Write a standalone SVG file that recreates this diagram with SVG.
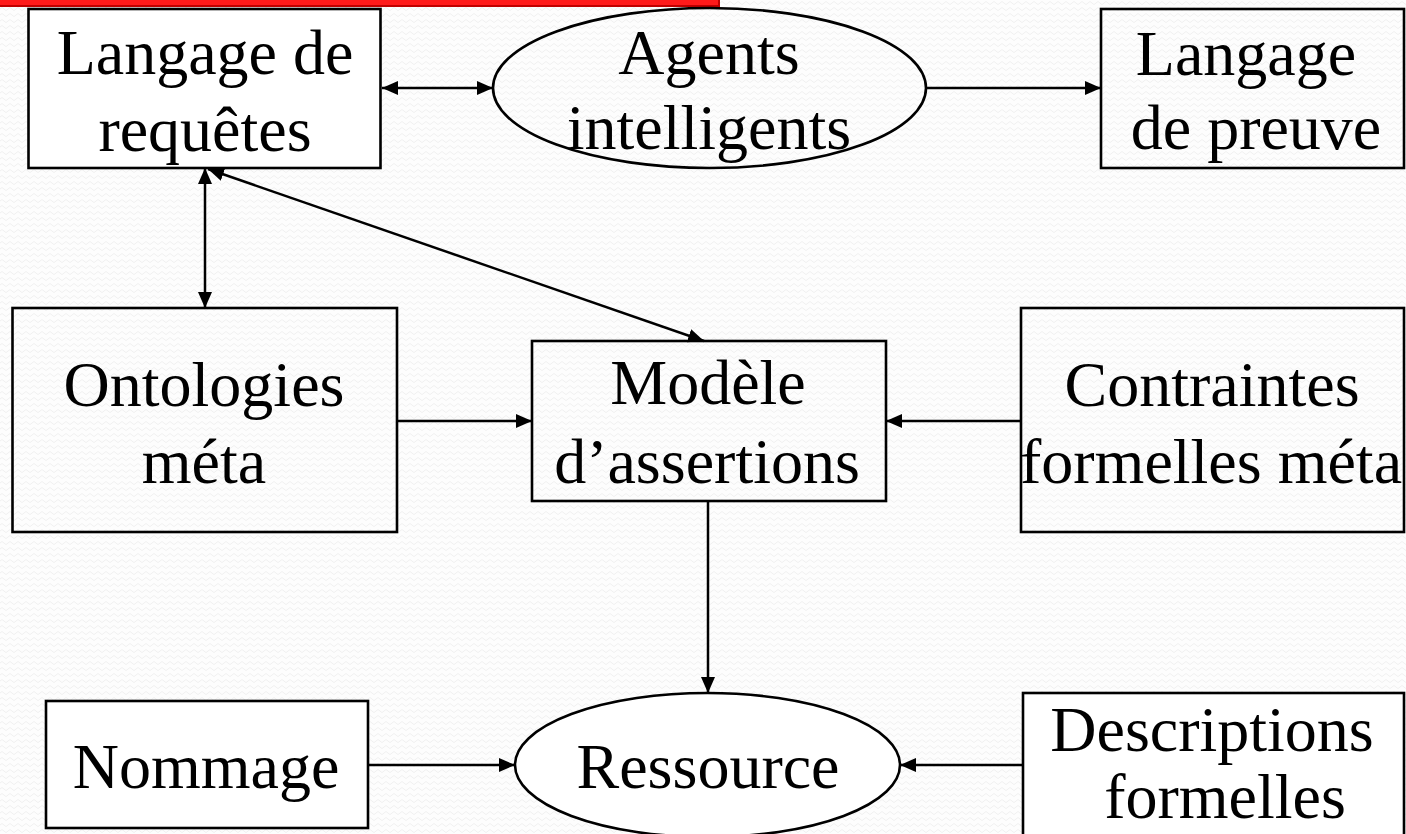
<svg xmlns="http://www.w3.org/2000/svg" width="1406" height="834" viewBox="0 0 1406 834">
  <style>
    .box { fill: none; stroke: #000; stroke-width: 2.6; }
    .solid { fill: #fff; stroke: #000; stroke-width: 2.6; }
    .lbl { font-family: "Liberation Serif", "Times New Roman", serif; font-size: 64px; fill: #000; text-anchor: middle; }
    .edge { fill: none; stroke: #000; stroke-width: 2.5; }
  </style>
  <defs>
    <pattern id="waves" width="8" height="6" patternUnits="userSpaceOnUse">
      <path d="M0,3 L2,1.5 L4,3 L6,4.5 L8,3" fill="none" stroke="#f0f0f0" stroke-width="1"/>
    </pattern>
    <marker id="head" markerUnits="userSpaceOnUse" markerWidth="16" markerHeight="14" refX="16" refY="7" orient="auto-start-reverse">
      <path d="M0,0 L16,7 L0,14 Z" fill="#000"/>
    </marker>
  </defs>

  <!-- page background -->
  <rect x="0" y="0" width="1406" height="834" fill="#fdfdfd"/>
  <rect x="0" y="0" width="1406" height="834" fill="url(#waves)"/>

  <!-- title bar -->
  <rect x="0" y="0" width="720" height="7" fill="#ff1a1a"/>
  <line x1="0" y1="6" x2="720" y2="6" stroke="#c00000" stroke-width="2"/>
  <line x1="719" y1="0" x2="719" y2="7" stroke="#c00000" stroke-width="2"/>

  <!-- connectors -->
  <g id="connectors">
    <path class="edge" d="M382,88 L493,88" marker-start="url(#head)" marker-end="url(#head)"/>
    <path class="edge" d="M926,88 L1101,88" marker-end="url(#head)"/>
    <path class="edge" d="M205,168 L205,308" marker-start="url(#head)" marker-end="url(#head)"/>
    <path class="edge" d="M208,169 L704,341" marker-start="url(#head)" marker-end="url(#head)"/>
    <path class="edge" d="M397,421 L532,421" marker-end="url(#head)"/>
    <path class="edge" d="M1021,421 L886,421" marker-end="url(#head)"/>
    <path class="edge" d="M708,501 L708,693" marker-end="url(#head)"/>
    <path class="edge" d="M368,765 L515,765" marker-end="url(#head)"/>
    <path class="edge" d="M1023,765 L900,765" marker-end="url(#head)"/>
  </g>

  <g id="langage-requetes">
    <rect class="solid" x="28.5" y="9" width="352" height="159"/>
    <text class="lbl" x="205" y="74">Langage de</text>
    <text class="lbl" x="205" y="151">requêtes</text>
  </g>

  <g id="agents-intelligents">
    <ellipse class="box" cx="709.5" cy="88" rx="216.5" ry="80"/>
    <text class="lbl" x="709" y="74">Agents</text>
    <text class="lbl" x="709" y="149">intelligents</text>
  </g>

  <g id="langage-preuve">
    <rect class="box" x="1101" y="9" width="303" height="159"/>
    <text class="lbl" x="1246" y="75">Langage</text>
    <text class="lbl" x="1256" y="149">de preuve</text>
  </g>

  <g id="ontologies-meta">
    <rect class="box" x="12.5" y="308" width="384.5" height="224"/>
    <text class="lbl" x="204" y="406">Ontologies</text>
    <text class="lbl" x="204" y="483">méta</text>
  </g>

  <g id="modele-assertions">
    <rect class="box" x="532" y="341" width="354" height="160"/>
    <text class="lbl" x="708" y="404">Modèle</text>
    <text class="lbl" x="707" y="483">d’assertions</text>
  </g>

  <g id="contraintes-formelles">
    <rect class="box" x="1021" y="308" width="383" height="224"/>
    <text class="lbl" x="1212" y="406">Contraintes</text>
    <text class="lbl" x="1211" y="483">formelles méta</text>
  </g>

  <g id="nommage">
    <rect class="solid" x="46" y="701" width="322" height="127"/>
    <text class="lbl" x="206" y="788">Nommage</text>
  </g>

  <g id="ressource">
    <ellipse class="solid" cx="707.5" cy="765" rx="192.5" ry="72"/>
    <text class="lbl" x="708" y="788">Ressource</text>
  </g>

  <g id="descriptions-formelles">
    <rect class="solid" x="1023" y="693" width="381" height="160"/>
    <text class="lbl" x="1212" y="751">Descriptions</text>
    <text class="lbl" x="1225" y="818">formelles</text>
  </g>
</svg>
